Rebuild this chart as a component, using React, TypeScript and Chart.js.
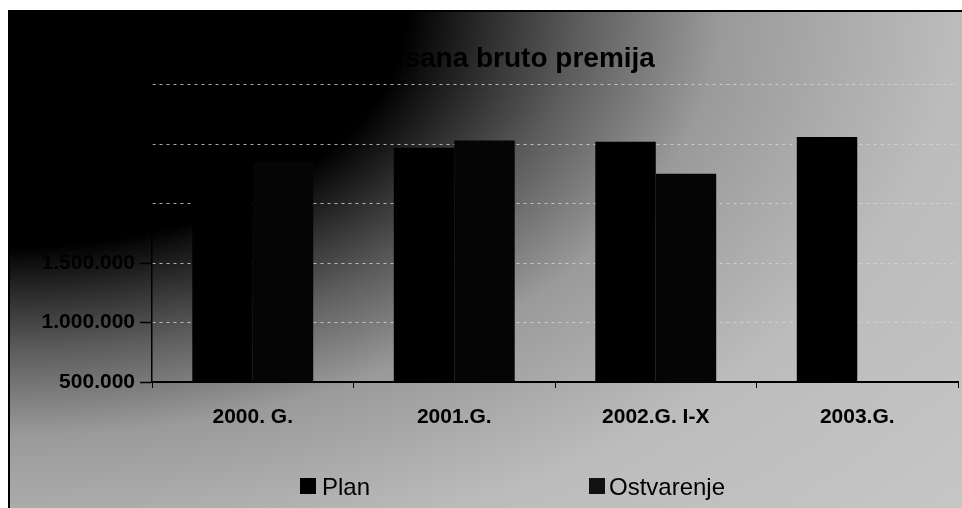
import { useEffect, useRef } from "react";
import { Chart, registerables } from "chart.js";

Chart.register(...registerables);

const categories = ["2000. G.", "2001.G.", "2002.G. I-X", "2003.G."];
const planValues = [2300000, 2470000, 2520000, 2560000];
const ostvarenjeValues: (number | null)[] = [2350000, 2530000, 2250000, null];
const seriesNames = ["Plan", "Ostvarenje"];
const yMin = 500000;
const yMax = 3000000;
const yStep = 500000;
const titleText = "Fakturisana bruto premija";

const fmt = (n: number) => String(n).replace(/\B(?=(\d{3})+(?!\d))/g, ".");

const bgPlugin = {
  id: "bgGradient",
  beforeDraw(chart: any) {
    const { ctx, width, height } = chart;
    ctx.save();
    ctx.fillStyle = "#ffffff";
    ctx.fillRect(0, 0, width, height);
    const rx = 475;
    const ry = 285;
    const k = ry / rx;
    ctx.save();
    ctx.scale(1, k);
    const R = rx * 3;
    const g = ctx.createRadialGradient(0, 0, 0, 0, 0, R);
    g.addColorStop(0, "#000000");
    g.addColorStop(0.28, "#000000");
    g.addColorStop(0.333, "#2a2a2a");
    g.addColorStop(0.4, "#5c5c5c");
    g.addColorStop(0.5, "#9a9a9a");
    g.addColorStop(0.667, "#bcbcbc");
    g.addColorStop(1, "#cbcbcb");
    ctx.fillStyle = g;
    ctx.fillRect(0, 2 / k, width, (height - 2) / k);
    ctx.restore();
    ctx.strokeStyle = "#000";
    ctx.lineWidth = 2;
    ctx.beginPath();
    ctx.moveTo(1, height);
    ctx.lineTo(1, 3);
    ctx.lineTo(width, 3);
    ctx.stroke();
    ctx.restore();
  },
};

export default function App() {
  const ref = useRef<HTMLCanvasElement | null>(null);

  useEffect(() => {
    if (!ref.current) return;
    const chart = new Chart(ref.current, {
      type: "bar",
      data: {
        labels: categories,
        datasets: [
          {
            label: seriesNames[0],
            data: planValues,
            backgroundColor: "#000000",
            categoryPercentage: 0.6,
            barPercentage: 1,
          },
          {
            label: seriesNames[1],
            data: ostvarenjeValues,
            backgroundColor: "#050505",
            categoryPercentage: 0.6,
            barPercentage: 1,
          },
        ],
      },
      options: {
        animation: false,
        responsive: true,
        maintainAspectRatio: false,
        layout: { padding: { left: 0, right: 4, top: 0, bottom: 0 } },
        plugins: {
          legend: { display: false },
          tooltip: { enabled: false },
          title: {
            display: true,
            text: titleText,
            color: "#000",
            font: { family: "'Liberation Sans', Arial, sans-serif", size: 28, weight: "bold" },
            padding: { top: 34, bottom: 9 },
          },
        },
        scales: {
          x: {
            afterFit: (s: any) => {
              s.height = 126;
            },
            grid: {
              display: true,
              drawOnChartArea: false,
              drawTicks: true,
              tickLength: 6,
              color: "#000",
              tickColor: "#000",
            },
            border: { display: true, color: "#000", width: 2 },
            ticks: {
              color: "#000",
              padding: 17,
              font: { family: "'Liberation Sans', Arial, sans-serif", size: 21, weight: "bold" },
            },
          },
          y: {
            min: yMin,
            max: yMax,
            afterFit: (s: any) => {
              s.width = 144;
            },
            grid: {
              display: true,
              drawOnChartArea: true,
              drawTicks: true,
              tickLength: 12,
              color: (c: any) => (c.tick && c.tick.value === yMin ? "rgba(0,0,0,0)" : "rgba(215,215,215,0.8)"),
              tickColor: "#000",
              tickWidth: 1.5,
            },
            border: { display: true, color: "#000", width: 1.5, dash: [3, 4] },
            ticks: {
              stepSize: yStep,
              color: "#000",
              padding: 5,
              font: { family: "'Liberation Sans', Arial, sans-serif", size: 21, weight: "bold" },
              callback: (v: any) => fmt(Number(v)),
            },
          },
        },
      },
      plugins: [bgPlugin],
    } as any);
    return () => chart.destroy();
  }, []);

  const legendFont = "'Liberation Sans', Arial, sans-serif";
  const sq = (left: number, color: string) => (
    <div
      style={{
        position: "absolute",
        left,
        top: 470,
        width: 16,
        height: 16,
        background: color,
      }}
    />
  );
  const txt = (left: number, t: string) => (
    <div
      style={{
        position: "absolute",
        left,
        top: 464,
        fontFamily: legendFont,
        fontSize: 24,
        lineHeight: "30px",
        color: "#000",
        whiteSpace: "nowrap",
      }}
    >
      {t}
    </div>
  );

  return (
    <div style={{ position: "fixed", left: 8, top: 8, width: 954, height: 500 }}>
      <canvas ref={ref} style={{ width: "100%", height: "100%" }} />
      {sq(292, "#000")}
      {txt(314, seriesNames[0])}
      {sq(581, "#111")}
      {txt(601, seriesNames[1])}
    </div>
  );
}
